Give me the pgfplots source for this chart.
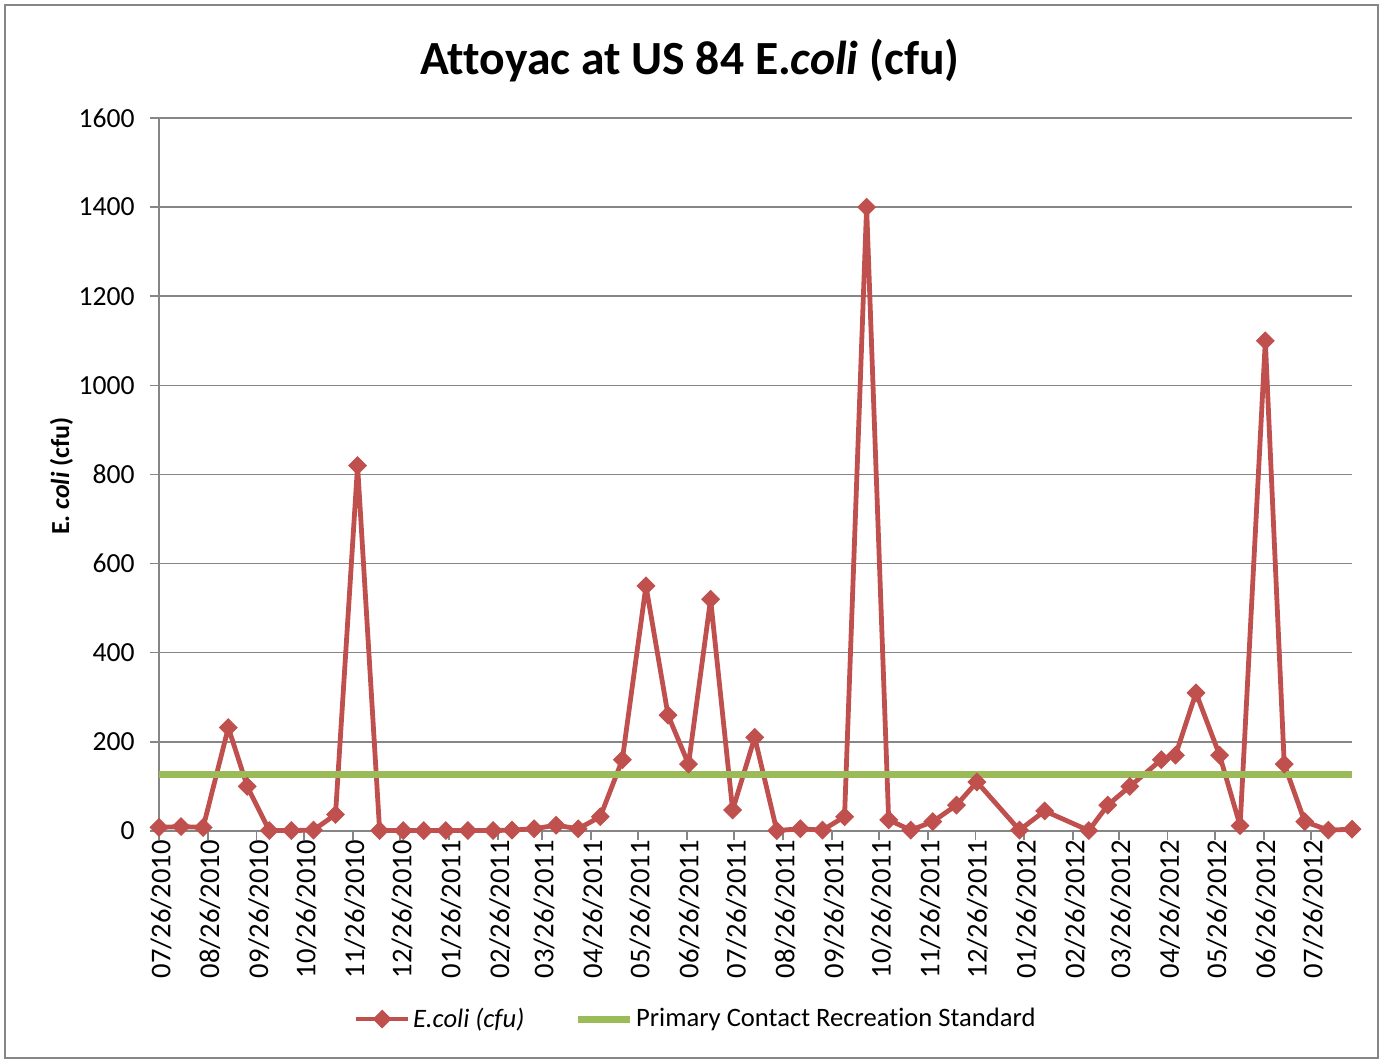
\documentclass[border=0pt]{standalone}
\usepackage{pgfplots}
\pgfplotsset{compat=1.18}
\usepackage{fontspec}
\setmainfont{Carlito}[Ligatures=NoCommon]
\definecolor{ecoli}{HTML}{C0504D}
\definecolor{pcr}{HTML}{9BBB59}
\definecolor{gridc}{HTML}{868686}
\pgfplotstableread{
day val
0 8
14 10
28 8
44 232
56 100
70 1
84 1
98 2
112 37
126 820
140 1
155 1
168 1
182 1
196 1
212 1
224 2
238 5
252 13
266 5
280 32
294 160
309 550
323 260
336 150
350 520
364 47
378 210
392 1
407 5
421 2
435 32
449 1400
463 25
477 2
491 21
506 58
519 110
546 2
562 45
590 1
602 58
616 100
636 160
645 170
658 310
673 170
686 12
702 1100
714 150
727 21
742 2
757 4
}\ecolidata
\begin{document}
\begin{tikzpicture}
\path[use as bounding box] (0pt,0pt) rectangle (691.5pt,-531.5pt);
\draw[gridc, line width=1.1pt] (2.5pt,-2.5pt) rectangle (689pt,-529pt);
\begin{axis}[
  at={(79.5pt,-415.5pt)}, anchor=south west,
  scale only axis, width=596.5pt, height=356.5pt,
  xmin=0, xmax=757, ymin=0, ymax=1600,
  clip=false,
  axis x line*=bottom, axis y line*=left,
  axis line style={gridc, line width=0.75pt, -},
  ymajorgrids, grid style={gridc, line width=0.75pt},
  ytick={0,200,...,1600},
  xtick={0,31,62,92,123,153,184,215,243,274,304,335,365,396,427,457,488,518,549,580,609,640,670,701,731},
  xticklabels={07/26/2010,08/26/2010,09/26/2010,10/26/2010,11/26/2010,12/26/2010,01/26/2011,02/26/2011,03/26/2011,04/26/2011,05/26/2011,06/26/2011,07/26/2011,08/26/2011,09/26/2011,10/26/2011,11/26/2011,12/26/2011,01/26/2012,02/26/2012,03/26/2012,04/26/2012,05/26/2012,06/26/2012,07/26/2012},
  tick align=outside, major tick length=4.5pt,
  tick style={gridc, line width=0.75pt},
  /pgf/number format/assume math mode=true,
  /pgf/number format/1000 sep={},
  xticklabel style={rotate=90, anchor=east, inner sep=0pt, yshift=-1pt, font=\fontsize{14.3}{16}\selectfont},
  yticklabel style={anchor=east, inner sep=0pt, xshift=-7.5pt, font=\fontsize{13.8}{16}\selectfont},
  legend style={at={(0.45,-0.2637)}, anchor=center, draw=none, fill=none,
    font=\fontsize{13.3}{15}\selectfont, legend columns=2,
    nodes={inner sep=1.2pt},
    /tikz/every even column/.append style={column sep=24pt}},
  legend image code/.code={\draw[mark repeat=2,mark phase=2,#1] plot coordinates {(0pt,0pt) (13pt,0pt) (26pt,0pt)};},
]
\addplot[color=ecoli, line width=2.4pt, line join=round, mark=square*, mark size=3.1pt,
  mark options={rotate=45, line width=0.5pt, line join=miter}] table[x=day, y=val] {\ecolidata};
\addlegendentry{\textit{E.coli (cfu)}}
\addplot[color=pcr, line width=3.5pt, mark=none] coordinates {(0,126) (757,126)};
\addlegendentry{Primary Contact Recreation Standard}
\end{axis}
\node[rotate=90, anchor=base, font=\fontsize{13}{15}\selectfont\bfseries] at (34.5pt,-238pt) {E. \textit{coli} (cfu)};
\node[anchor=base, font=\fontsize{23.8}{28}\selectfont\bfseries] at (345pt,-37.5pt) {Attoyac at US 84 E.\textit{coli} (cfu)};
\end{tikzpicture}
\end{document}
